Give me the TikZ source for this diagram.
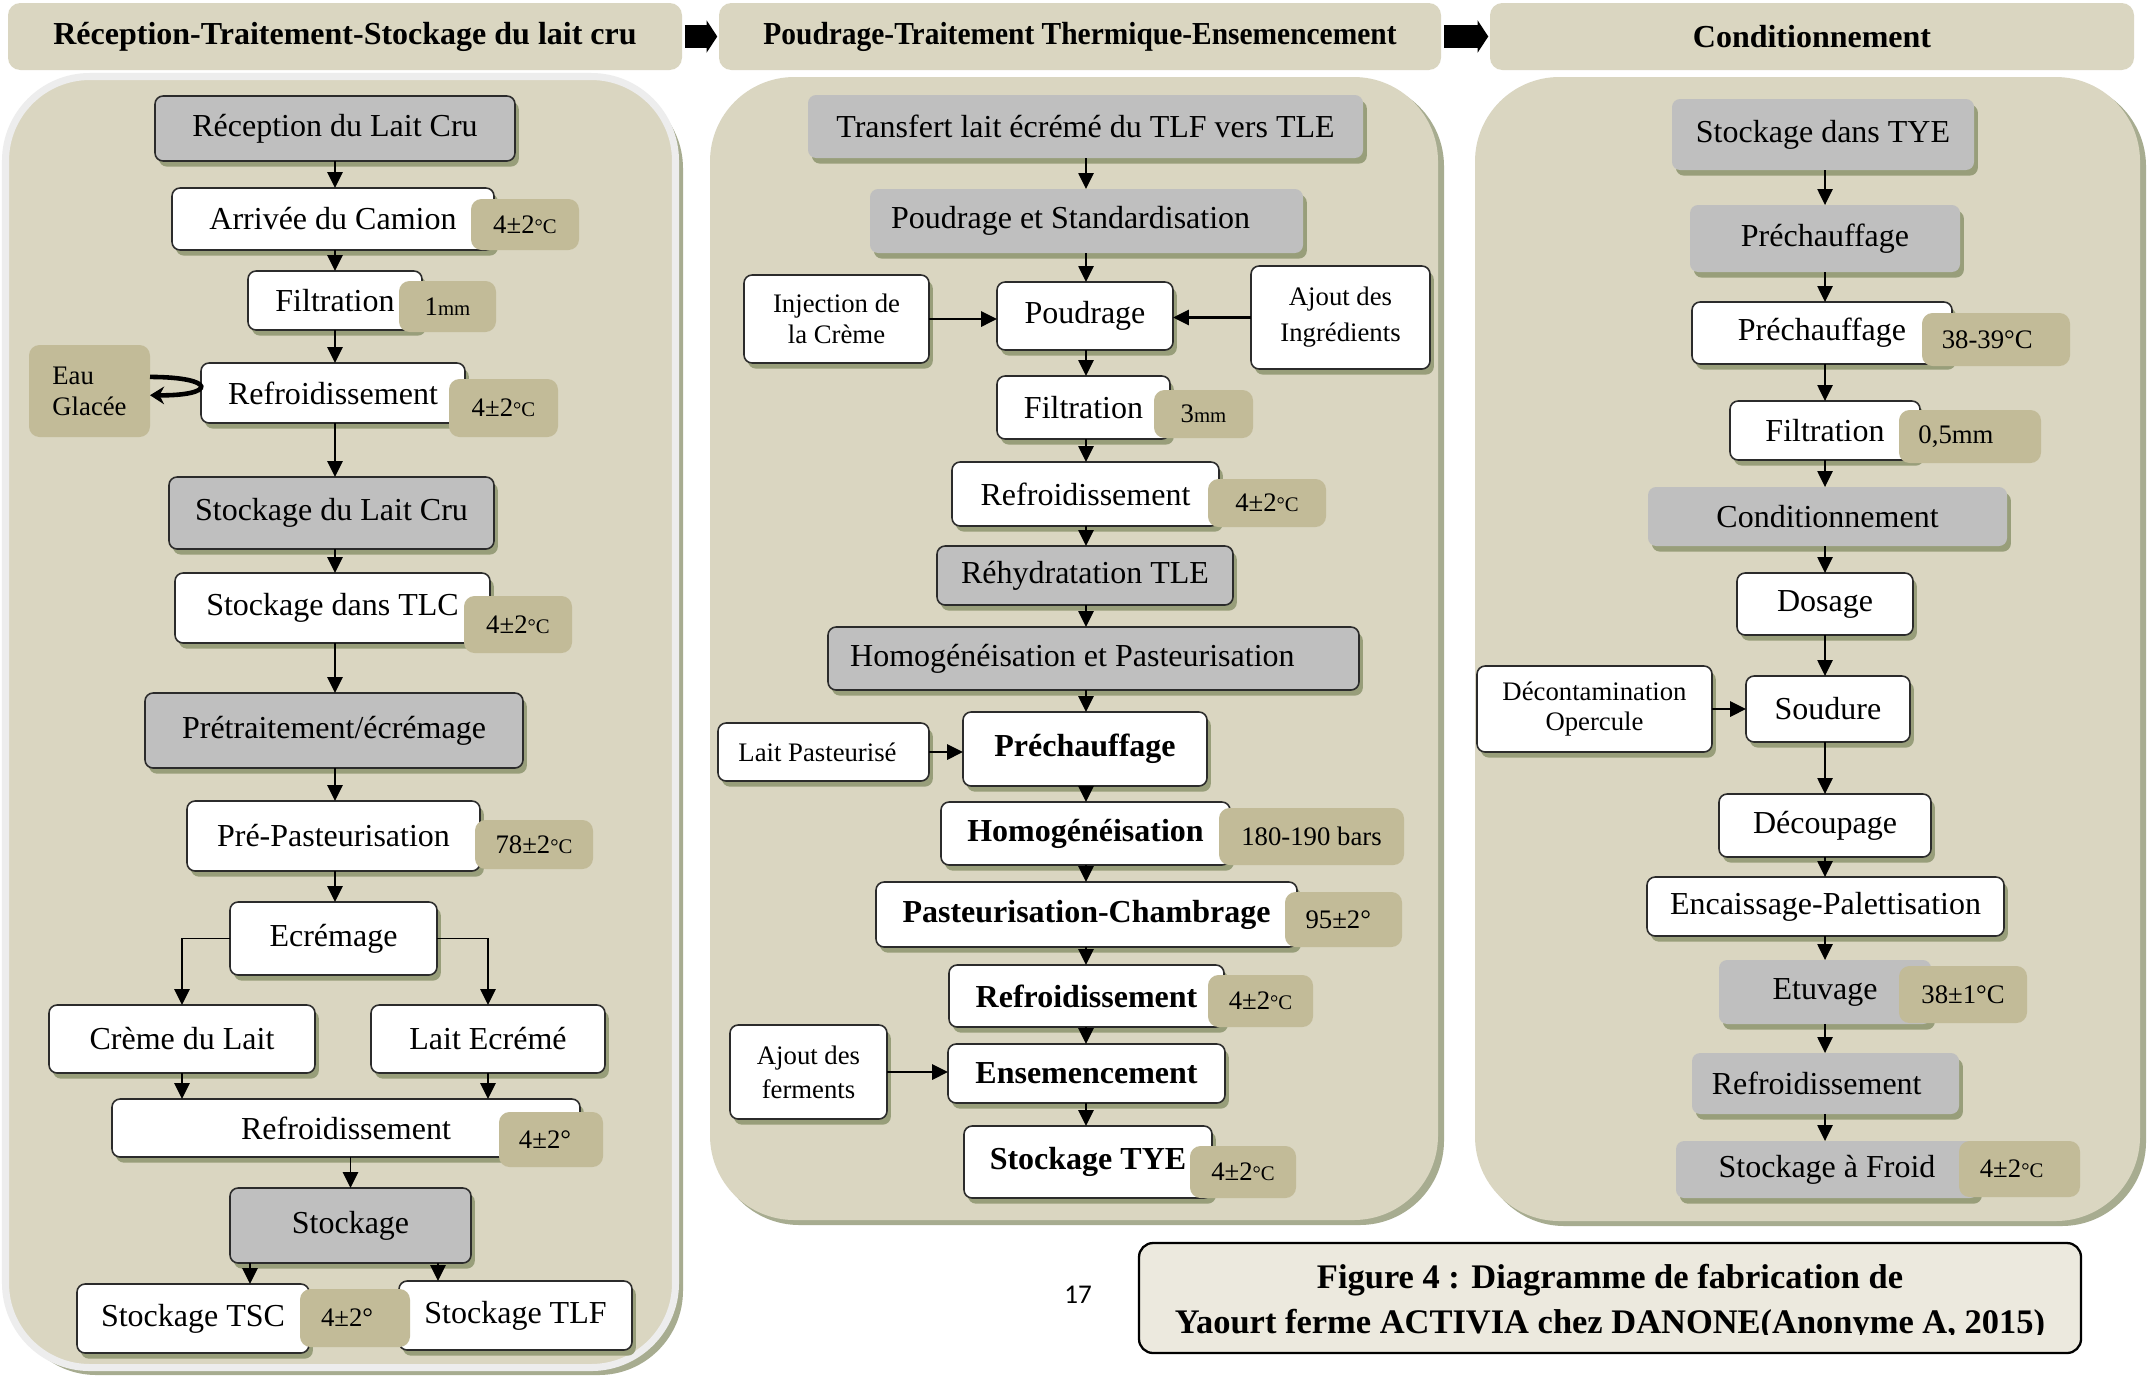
\documentclass[tikz,border=0pt]{standalone}
\usepackage{fontspec}
\usepackage{graphicx}
\setmainfont{Liberation Serif}
\newfontfamily\calibri{Carlito}
\usetikzlibrary{shadows,arrows.meta}
\definecolor{cBeige}{HTML}{DAD6C1}
\definecolor{cTan}{HTML}{C2BB98}
\definecolor{cGray}{HTML}{BFBFBF}
\definecolor{cShadow}{HTML}{989E7A}
\definecolor{cPanSh}{HTML}{A7AC90}
\definecolor{cBorder}{HTML}{EDEDED}
\definecolor{cEdge}{HTML}{2B2B2B}
\definecolor{cCap}{HTML}{ECE9DE}
\newcommand\mainf{\fontsize{9.1}{10.9}\selectfont}
\newcommand\boldf{\fontsize{9.1}{10.9}\selectfont\bfseries}
\newcommand\smallf{\fontsize{7.6}{8.8}\selectfont}
\newcommand\capf{\fontsize{9.8}{12}\selectfont\bfseries}
\newcommand\dC{{\fontsize{5.9}{6}\selectfont°C}}
\newcommand\mmu{{\fontsize{5.9}{6}\selectfont mm}}
\newcommand\placebox[7]{\node[#2, minimum width={(#5-#3)*0.01cm}, minimum height={(#6-#4)*0.01cm}] (#1) at ({(#3+#5)/2},{(#4+#6)/2}) {#7};}
\tikzset{
  base/.style={rounded corners=2.3pt, inner sep=0pt, outer sep=0pt,
    drop shadow={shadow xshift=1.1pt, shadow yshift=-1.6pt, fill=cShadow, opacity=1}},
  wbox/.style={base, draw=cEdge, line width=0.45pt, fill=white, font=\mainf},
  bbox/.style={wbox, font=\boldf},
  gbox/.style={base, draw=cEdge, line width=0.45pt, fill=cGray, font=\mainf},
  gboxn/.style={base, fill=cGray, font=\mainf},
  sbox/.style={base, draw=cEdge, line width=0.45pt, fill=white, font=\smallf, align=center},
  lab/.style={rounded corners=3pt, fill=cTan, inner sep=0pt, outer sep=0pt, font=\smallf},
  hdr/.style={rounded corners=3.5pt, fill=cBeige, inner sep=0pt, outer sep=0pt, font=\boldf},
  capst/.style={rounded corners=4pt, draw=black, line width=0.65pt, fill=cCap, inner sep=0pt},
  arr/.style={line width=0.5pt, -{Triangle[length=4.5pt,width=4.3pt]}},
  harr/.style={line width=0.7pt, -{Triangle[length=4.5pt,width=4.3pt]}},
  hdrarrow/.style={line width=6.3pt, -{Triangle[length=3pt,width=9pt]}, shorten <=0.8pt, shorten >=0.5pt},
  thk/.style={line width=1.3pt, -{Stealth[length=4pt,width=5pt]}},
}
\begin{document}
\begin{tikzpicture}[x=0.01cm,y=-0.01cm]
\useasboundingbox[fill=white] (0,0) rectangle (2152,1375);
% panels
\fill[cPanSh, rounded corners=24pt] (12,84) rectangle (683,1375);
\draw[cBorder, line width=2pt, fill=cBeige, rounded corners=24pt] (5.5,76.5) rectangle (675.5,1367.5);
\fill[cPanSh, rounded corners=24pt] (715,82) rectangle (1444,1225);
\fill[cBeige, rounded corners=24pt] (710,77) rectangle (1438,1220);
\fill[cPanSh, rounded corners=24pt] (1480,82) rectangle (2146,1226);
\fill[cBeige, rounded corners=24pt] (1475,77) rectangle (2140,1221);
% headers
\placebox{h1}{hdr}{8}{3}{682}{70}{Réception-Traitement-Stockage du lait cru}
\placebox{h2}{hdr}{719}{3}{1441}{70}{\scalebox{0.92}[1]{Poudrage-Traitement Thermique-Ensemencement}}
\placebox{h3}{hdr}{1490}{3}{2134}{70}{Conditionnement}
\draw[hdrarrow] (h1.east) -- (h2.west);
\draw[hdrarrow] (h2.east) -- (h3.west);
% panel 1
\placebox{recep}{gbox}{155}{96}{515}{161}{Réception du Lait Cru}
\placebox{arriv}{wbox}{172}{188}{494}{250}{Arrivée du Camion}
\placebox{filtA}{wbox}{248}{271}{422}{330}{Filtration}
\placebox{refrA}{wbox}{201}{363}{465}{423}{Refroidissement}
\placebox{eau}{lab, align=left}{29}{345}{150}{437}{Eau\\Glacée}
\placebox{stockA}{gbox}{169}{477}{494}{549}{Stockage du Lait Cru}
\placebox{tlc}{wbox}{175}{573}{490}{643}{Stockage dans TLC}
\placebox{pretr}{gbox}{145}{693}{523}{768}{Prétraitement/écrémage}
\placebox{prepast}{wbox}{187}{801}{480}{871}{Pré-Pasteurisation}
\placebox{ecrem}{wbox}{230}{902}{437}{975}{Ecrémage}
\placebox{creme}{wbox}{49}{1005}{315}{1073}{Crème du Lait}
\placebox{laitec}{wbox}{371}{1005}{605}{1073}{Lait Ecrémé}
\placebox{refrB}{wbox}{112}{1099}{580}{1157}{Refroidissement}
\placebox{stockB}{gbox}{230}{1188}{471}{1263}{Stockage}
\placebox{tsc}{wbox}{77}{1284}{309}{1353}{Stockage TSC}
\placebox{tlf}{wbox}{399}{1281}{632}{1350}{Stockage TLF}
\coordinate (xA) at (335,0);
\coordinate (xT) at (250,0);
\coordinate (xF) at (438,0);
\foreach \a/\b in {recep/arriv, arriv/filtA, filtA/refrA, refrA/stockA, stockA/tlc, tlc/pretr, pretr/prepast, prepast/ecrem}
  {\draw[arr] (\a.south -| xA) -- (\b.north -| xA);}
\draw[arr] (ecrem.west) -| (creme.north);
\draw[arr] (ecrem.east) -| (laitec.north);
\draw[arr] (creme.south) -- (creme.south |- refrB.north);
\draw[arr] (laitec.south) -- (laitec.south |- refrB.north);
\draw[arr] (refrB.south -| stockB.north) -- (stockB.north);
\draw[arr] (stockB.south -| xT) -- (tsc.north -| xT);
\draw[arr] (stockB.south -| xF) -- (tlf.north -| xF);
\draw[thk] ([yshift=4pt]eau.east) .. controls ([xshift=19pt,yshift=4pt]eau.east) and ([xshift=19pt,yshift=-1.4pt]eau.east) .. ([yshift=-1.2pt]eau.east);
\placebox{lA}{lab}{471}{199}{579}{250}{4±2\dC}
\placebox{lB}{lab}{399}{281}{496}{332}{1\mmu}
\placebox{lC}{lab}{449}{379}{558}{437}{4±2\dC}
\placebox{lD}{lab}{464}{596}{572}{653}{4±2\dC}
\placebox{lE}{lab}{475}{820}{593}{869}{78±2\dC}
\placebox{lF}{lab}{499}{1112}{603}{1167}{\hspace*{-3.4pt}4±2°}
\placebox{lG}{lab}{300}{1289}{410}{1347}{\hspace*{-4.5pt}4±2°}
% panel 2
\placebox{transf}{gboxn}{808}{95}{1363}{158}{Transfert lait écrémé du TLF vers TLE}
\placebox{pstd}{gboxn}{870}{189}{1303}{253}{\hspace*{-9pt}Poudrage et Standardisation}
\placebox{inj}{sbox, font=\fontsize{7.6}{8.9}\selectfont}{744}{275}{929}{363}{Injection de\\la Crème}
\placebox{poud}{wbox}{997}{282}{1173}{350}{Poudrage}
\placebox{ajing}{sbox, font=\fontsize{7.6}{10.2}\selectfont}{1251}{266}{1430}{369}{Ajout des\\Ingrédients}
\placebox{filtB}{wbox}{997}{376}{1170}{439}{Filtration}
\placebox{refrC}{wbox}{952}{462}{1219}{526}{Refroidissement}
\placebox{rehyd}{gbox}{937}{546}{1233}{605}{Réhydratation TLE}
\placebox{hpast}{gbox}{828}{627}{1359}{690}{\hspace*{-12pt}Homogénéisation et Pasteurisation}
\placebox{laitp}{sbox}{718}{723}{929}{781}{\hspace*{-3.4pt}Lait Pasteurisé}
\placebox{prechA}{bbox}{963}{712}{1207}{786}{Préchauffage}
\placebox{homog}{bbox}{941}{802}{1230}{865}{Homogénéisation}
\placebox{pastch}{bbox}{876}{882}{1297}{947}{Pasteurisation-Chambrage}
\placebox{refrD}{bbox}{949}{965}{1224}{1027}{Refroidissement}
\placebox{ajferm}{sbox, font=\fontsize{7.6}{9.7}\selectfont}{730}{1025}{887}{1119}{Ajout des\\ferments}
\placebox{ensem}{bbox}{948}{1044}{1225}{1103}{Ensemencement}
\placebox{stye}{bbox}{964}{1126}{1212}{1198}{Stockage TYE}
\coordinate (xB) at (1086,0);
\foreach \a/\b in {transf/pstd, pstd/poud, poud/filtB, filtB/refrC, refrC/rehyd, rehyd/hpast, hpast/prechA, prechA/homog, homog/pastch, pastch/refrD, refrD/ensem, ensem/stye}
  {\draw[arr] (\a.south -| xB) -- (\b.north -| xB);}
\draw[harr] (inj.east) -- (inj.east -| poud.west);
\draw[harr] (ajing.west) -- (ajing.west -| poud.east);
\draw[harr] (laitp.east) -- (laitp.east -| prechA.west);
\draw[harr] (ajferm.east) -- (ajferm.east -| ensem.west);
\placebox{lmm}{lab}{1154}{390}{1253}{438}{3\mmu}
\placebox{lH}{lab}{1208}{479}{1326}{527}{4±2\dC}
\placebox{lI}{lab}{1219}{808}{1404}{865}{180-190 bars}
\placebox{lJ}{lab}{1285}{892}{1402}{947}{\hspace*{-3pt}95±2°}
\placebox{lK}{lab}{1208}{975}{1313}{1027}{4±2\dC}
\placebox{lL}{lab}{1190}{1146}{1296}{1198}{4±2\dC}
% panel 3
\placebox{sdtye}{gboxn}{1672}{99}{1974}{170}{Stockage dans TYE}
\placebox{prechB}{gboxn}{1690}{205}{1960}{272}{Préchauffage}
\placebox{prechC}{wbox}{1692}{302}{1952}{364}{Préchauffage}
\placebox{filtC}{wbox}{1730}{401}{1920}{460}{Filtration}
\placebox{cond}{gboxn}{1648}{487}{2007}{546}{Conditionnement}
\placebox{dos}{wbox}{1737}{573}{1913}{635}{Dosage}
\placebox{decont}{sbox, font=\fontsize{7.6}{8.5}\selectfont}{1477}{666}{1712}{752}{Décontamination\\Opercule}
\placebox{soud}{wbox}{1746}{676}{1910}{742}{Soudure}
\placebox{decoup}{wbox}{1719}{794}{1931}{857}{Découpage}
\placebox{encais}{wbox}{1647}{877}{2004}{936}{Encaissage-Palettisation}
\placebox{etuv}{gboxn}{1719}{960}{1931}{1024}{Etuvage}
\placebox{refrE}{gboxn}{1692}{1053}{1959}{1114}{\hspace*{-5pt}Refroidissement}
\placebox{froid}{gboxn}{1676}{1141}{1978}{1198}{Stockage à Froid}
\coordinate (xC) at (1825,0);
\foreach \a/\b in {sdtye/prechB, prechB/prechC, prechC/filtC, filtC/cond, cond/dos, dos/soud, soud/decoup, decoup/encais, encais/etuv, etuv/refrE, refrE/froid}
  {\draw[arr] (\a.south -| xC) -- (\b.north -| xC);}
\draw[harr] (decont.east) -- (decont.east -| soud.west);
\placebox{lM}{lab}{1922}{313}{2070}{366}{\hspace*{-5pt}38-39°C}
\placebox{lN}{lab}{1899}{410}{2041}{463}{\hspace*{-8pt}0,5mm}
\placebox{lO}{lab}{1899}{966}{2027}{1023}{38±1°C}
\placebox{lP}{lab}{1959}{1141}{2080}{1197}{\hspace*{-4.5pt}4±2\dC}
% caption and page number
\node[font=\calibri\fontsize{7.7}{9}\selectfont] (pg) at (1078,1295) {17};
\placebox{capbox}{capst}{1139}{1243}{2081}{1353}{}
\begin{scope}
\clip (1139,1243) rectangle (2081,1334);
\node[anchor=base, font=\capf, inner sep=0pt] (cap1) at (1610,1288) {Figure 4 : Diagramme de fabrication de};
\node[anchor=base, font=\capf, inner sep=0pt] (cap2) at (1610,1333) {Yaourt ferme ACTIVIA chez DANONE(Anonyme A, 2015)};
\end{scope}
\end{tikzpicture}
\end{document}
